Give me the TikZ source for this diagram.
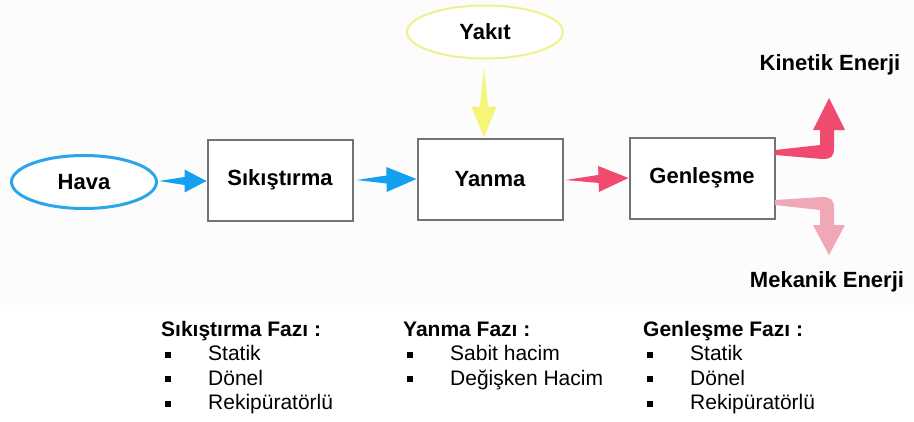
\documentclass[tikz,border=0pt]{standalone}
\usepackage{fontspec}
\setmainfont{Liberation Sans}
\usetikzlibrary{calc, shapes.geometric}

\definecolor{airblue}{RGB}{20,160,240}
\definecolor{airline}{RGB}{45,165,235}
\definecolor{fuelyel}{RGB}{245,245,120}
\definecolor{fuelline}{RGB}{240,240,140}
\definecolor{hotred}{RGB}{240,75,110}
\definecolor{softred}{RGB}{240,168,182}
\definecolor{boxgray}{RGB}{115,115,115}
\definecolor{paper}{RGB}{252,252,252}

% wedge arrow: colour, tail, tip, head length, head half width
\newcommand{\wedgearrow}[5]{%
  \path ($(#3)!#4!(#2)$) coordinate (hb);
  \fill[#1] (#2) -- ($(hb)!4pt!90:(#3)$) -- ($(hb)!#5!90:(#3)$) -- (#3)
    -- ($(hb)!#5!-90:(#3)$) -- ($(hb)!4pt!-90:(#3)$) -- cycle;
}

\begin{document}
\begin{tikzpicture}[x=1pt, y=-1pt,
  label/.style={font=\bfseries\fontsize{22}{26}\selectfont, inner sep=0pt},
  phase/.style={draw=boxgray, line width=2pt, fill=white, minimum width=145pt,
    minimum height=81pt, label},
  source/.style={ellipse, fill=white, minimum width=#1, minimum height=53pt, label},
  phasehead/.style={font=\bfseries\fontsize{21}{25}\selectfont, inner sep=0pt, anchor=base west},
  phaseitem/.style={font=\fontsize{21}{25}\selectfont, inner sep=0pt, anchor=base west}]
  \useasboundingbox (0,0) rectangle (914,421);
  \fill[paper] (0,0) rectangle (914,305);

  % main line
  \node[source=145pt, draw=airline, line width=3pt] (hava) at (84,182) {Hava};
  \node[phase] (sik) at (280,180) {Sıkıştırma};
  \node[phase] (yanma) at (490,179) {Yanma};
  \node[phase] (gen) at (702,178) {Genleşme};
  \node[source=156pt, draw=fuelline, line width=2pt] (yakit) at (485,32) {Yakıt};

  \wedgearrow{airblue}{$(hava.east)+(1,-1)$}{$(sik.west)+(0,1)$}{22pt}{11.5pt}
  \wedgearrow{airblue}{$(sik.east)+(3,0)$}{yanma.west}{30pt}{12.5pt}
  \wedgearrow{fuelyel}{$(yakit.south)+(-1,8)$}{$(yakit |- yanma.north)+(-1,0)$}{31pt}{12.5pt}
  \wedgearrow{hotred}{$(yanma.east)+(2,1)$}{gen.west}{30pt}{13pt}

  % outputs
  \coordinate (kin) at (829,98);
  \coordinate (mek) at (829,255);
  \fill[hotred] (775,150) -- (820,145) -- (820,130) -- (813,130) -- (kin) -- (845,130)
    -- (834,130) -- (834,148) .. controls (834,157) and (831,159) .. (822,159)
    -- (775,155) -- cycle;
  \fill[softred] (775,200) -- (822,197) .. controls (831,197) and (834,200) .. (834,208)
    -- (834,225) -- (845,225) -- (mek) -- (813,225) -- (820,225) -- (820,210)
    -- (775,205) -- cycle;
  \node[label] (kinlbl) at (830,65) {Kinetik Enerji};
  \node[label] (meklbl) at (827,282) {Mekanik Enerji};

  % phase lists
  \foreach \x/\col/\head/\items in {161/a/{Sıkıştırma Fazı :}/{Statik,Dönel,Rekipüratörlü},
      403/b/{Yanma Fazı :}/{Sabit hacim,Değişken Hacim},
      643/c/{Genleşme Fazı :}/{Statik,Dönel,Rekipüratörlü}} {
    \node[phasehead] (head\col) at (\x,336) {\head};
    \foreach \txt [count=\i] in \items {
      \pgfmathsetmacro\yy{336+24.5*\i}
      \fill (\x+4,\yy-9) rectangle ++(6,6);
      \node[phaseitem] (item\col\i) at (\x+47,\yy) {\txt};
    }
  }
\end{tikzpicture}
\end{document}
